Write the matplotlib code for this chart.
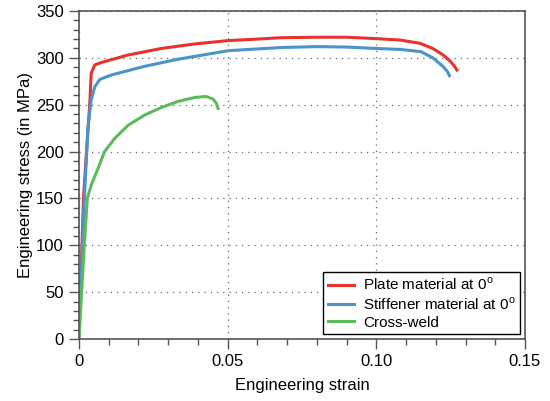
import matplotlib
matplotlib.use("Agg")
import matplotlib.pyplot as plt
from matplotlib.ticker import MultipleLocator

plt.rcParams['font.family'] = ['Liberation Sans', 'DejaVu Sans']
plt.rcParams['mathtext.fontset'] = 'custom'
plt.rcParams['mathtext.rm'] = 'Liberation Sans'

# Plate material at 0 deg
plate_strain = [0, 0.0015, 0.0037, 0.0041, 0.0053, 0.0075, 0.0165, 0.0277, 0.0389,
                0.0501, 0.06, 0.068, 0.08, 0.09, 0.1, 0.108, 0.1147, 0.119,
                0.1225, 0.125, 0.1263, 0.1271]
plate_stress = [0, 150, 255, 283.5, 292.4, 295, 303, 310, 314.8,
                318.4, 320, 321.5, 322, 322, 320.5, 319, 315.5, 310,
                303, 296, 291, 287]

# Stiffener material at 0 deg
stiff_strain = [0, 0.0015, 0.003, 0.0041, 0.0053, 0.007, 0.0109, 0.0221, 0.0333,
                0.0501, 0.06, 0.068, 0.08, 0.09, 0.1, 0.108, 0.115, 0.119,
                0.1225, 0.124, 0.1246]
stiff_stress = [0, 130, 225, 255, 269, 277, 281.7, 291, 298.5,
                307.6, 309.5, 311, 312, 311.5, 310, 309, 306.6, 300,
                290.6, 285, 281]

# Cross-weld
weld_strain = [0, 0.0009, 0.0018, 0.0028, 0.0041, 0.0064, 0.0086, 0.012, 0.0165,
               0.0221, 0.0277, 0.0333, 0.0389, 0.0428, 0.0451, 0.0462, 0.0468]
weld_stress = [0, 50, 100, 150, 164, 182, 200, 214, 228,
               239, 247, 253.5, 257.7, 258.8, 256, 251.5, 246]

labels = ["Plate material at 0$^{\\rm o}$", "Stiffener material at 0$^{\\rm o}$", "Cross-weld"]
colors = ["#e8322b", "#4a94cb", "#5cba5a"]

fig = plt.figure(figsize=(5.5, 4.01), dpi=100)
ax = fig.add_axes([0.1436, 0.1546, 0.8109, 0.818])

ax.plot(plate_strain, plate_stress, color=colors[0], lw=2.2, label=labels[0])
ax.plot(stiff_strain, stiff_stress, color=colors[1], lw=2.2, label=labels[1])
ax.plot(weld_strain, weld_stress, color=colors[2], lw=2.2, label=labels[2])

ax.set_xlim(0, 0.15)
ax.set_ylim(0, 350)
ax.xaxis.set_major_locator(MultipleLocator(0.05))
ax.xaxis.set_minor_locator(MultipleLocator(0.01))
ax.yaxis.set_major_locator(MultipleLocator(50))
ax.yaxis.set_minor_locator(MultipleLocator(10))
ax.set_xticks([0, 0.05, 0.10, 0.15])
ax.set_xticklabels(["0", "0.05", "0.10", "0.15"])

ax.tick_params(which='major', direction='out', length=7, width=1, color='#555555',
               labelsize=12, pad=4)
ax.tick_params(which='minor', direction='out', length=4.3, width=1, color='#555555')
ax.tick_params(top=False, right=False, which='both')
for s in ax.spines.values():
    s.set_color('#555555')
    s.set_linewidth(1.2)

ax.grid(True, which='major', linestyle=(0, (1, 4)), color='#666666', linewidth=0.9)

ax.set_xlabel("Engineering strain", fontsize=12, labelpad=6)
ax.set_ylabel("Engineering stress (in MPa)", fontsize=12, labelpad=2)

leg = ax.legend(loc='lower right', fontsize=11, fancybox=False, framealpha=1,
                edgecolor='black', handlelength=1.7, borderpad=0.3,
                labelspacing=0.2, handletextpad=0.6, borderaxespad=0.3)
leg.get_frame().set_linewidth(1)

fig.savefig("out.png", dpi=100)
